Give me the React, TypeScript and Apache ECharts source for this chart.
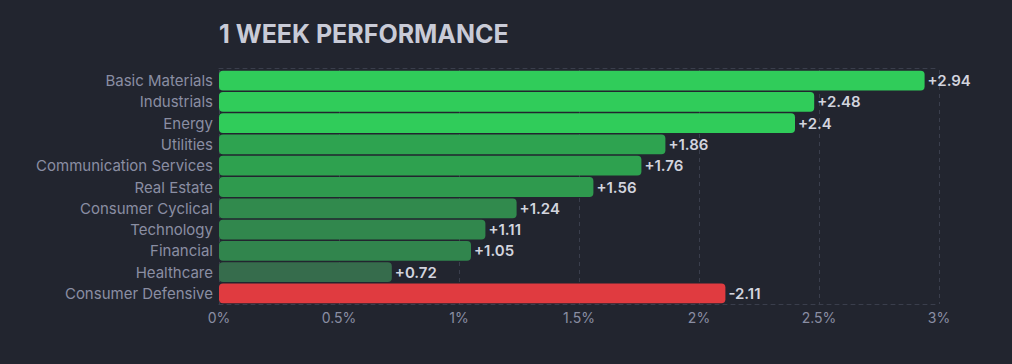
import React, { useEffect, useRef } from "react";
import * as echarts from "echarts";

const categories = [
  "Basic Materials",
  "Industrials",
  "Energy",
  "Utilities",
  "Communication Services",
  "Real Estate",
  "Consumer Cyclical",
  "Technology",
  "Financial",
  "Healthcare",
  "Consumer Defensive",
];
const values = [2.94, 2.48, 2.4, 1.86, 1.76, 1.56, 1.24, 1.11, 1.05, 0.72, -2.11];
const xTicks = { min: 0, max: 3, interval: 0.5 };
const title = "1 WEEK PERFORMANCE";

const stops: [number, number[]][] = [
  [0.7, [54, 106, 76]],
  [1.05, [49, 133, 77]],
  [1.24, [49, 138, 77]],
  [1.56, [47, 154, 78]],
  [1.8, [46, 162, 79]],
  [2.0, [47, 166, 81]],
  [2.3, [48, 204, 90]],
];

function colorFor(v: number): string {
  if (v < 0) return "#e03b40";
  if (v <= stops[0][0]) return `rgb(${stops[0][1].join(",")})`;
  for (let i = 1; i < stops.length; i++) {
    if (v <= stops[i][0]) {
      const [a, ca] = stops[i - 1];
      const [b, cb] = stops[i];
      const t = (v - a) / (b - a);
      const c = ca.map((x, k) => Math.round(x + (cb[k] - x) * t));
      return `rgb(${c.join(",")})`;
    }
  }
  return `rgb(${stops[stops.length - 1][1].join(",")})`;
}

export default function App() {
  const ref = useRef<HTMLDivElement>(null);
  useEffect(() => {
    document.body.style.margin = "0";
    document.body.style.background = "#22252f";
    const chart = echarts.init(ref.current!, undefined, { renderer: "svg" });
    const font = "Inter, 'Noto Sans', sans-serif";
    chart.setOption({
      animation: false,
      backgroundColor: "#22252f",
      title: {
        text: title,
        left: 214,
        top: 16,
        textStyle: { color: "#c9cbd7", fontSize: 25, fontWeight: 700, fontFamily: font },
      },
      grid: { left: 219, right: 73, top: 70, bottom: 60 },
      xAxis: [
        {
          type: "value",
          min: xTicks.min,
          max: xTicks.max,
          interval: xTicks.interval,
          axisLine: { show: true, lineStyle: { color: "#3a3e4c", type: [4, 4] } },
          axisTick: { show: false },
          axisLabel: {
            color: "#8a8ea3",
            fontSize: 14,
            fontFamily: font,
            margin: 6,
            formatter: (v: number) => `${v}%`,
          },
          splitLine: { show: true, lineStyle: { color: "#3a3e4c", type: [4, 4] } },
        },
        {
          type: "value",
          position: "top",
          offset: 2,
          min: xTicks.min,
          max: xTicks.max,
          interval: xTicks.interval,
          axisLine: { show: true, lineStyle: { color: "#3a3e4c", type: [4, 4] } },
          axisTick: { show: false },
          axisLabel: { show: false },
          splitLine: { show: false },
        },
      ],
      yAxis: {
        type: "category",
        data: categories,
        inverse: true,
        axisLine: { show: false },
        axisTick: { show: false },
        axisLabel: { color: "#8a8ea3", fontSize: 15, fontFamily: font, margin: 6 },
      },
      series: [
        {
          type: "bar",
          xAxisIndex: 0,
          barCategoryGap: "7%",
          data: values.map((v) => ({
            value: Math.abs(v),
            itemStyle: { color: colorFor(v), borderRadius: 4 },
            label: { formatter: (v > 0 ? "+" : "") + v },
          })),
          label: {
            show: true,
            position: "right",
            distance: 3,
            color: "#d2d4de",
            fontSize: 15,
            fontWeight: 600,
            fontFamily: font,
          },
        },
      ],
    });
    return () => chart.dispose();
  }, []);
  return <div ref={ref} style={{ width: 1012, height: 364 }} />;
}
